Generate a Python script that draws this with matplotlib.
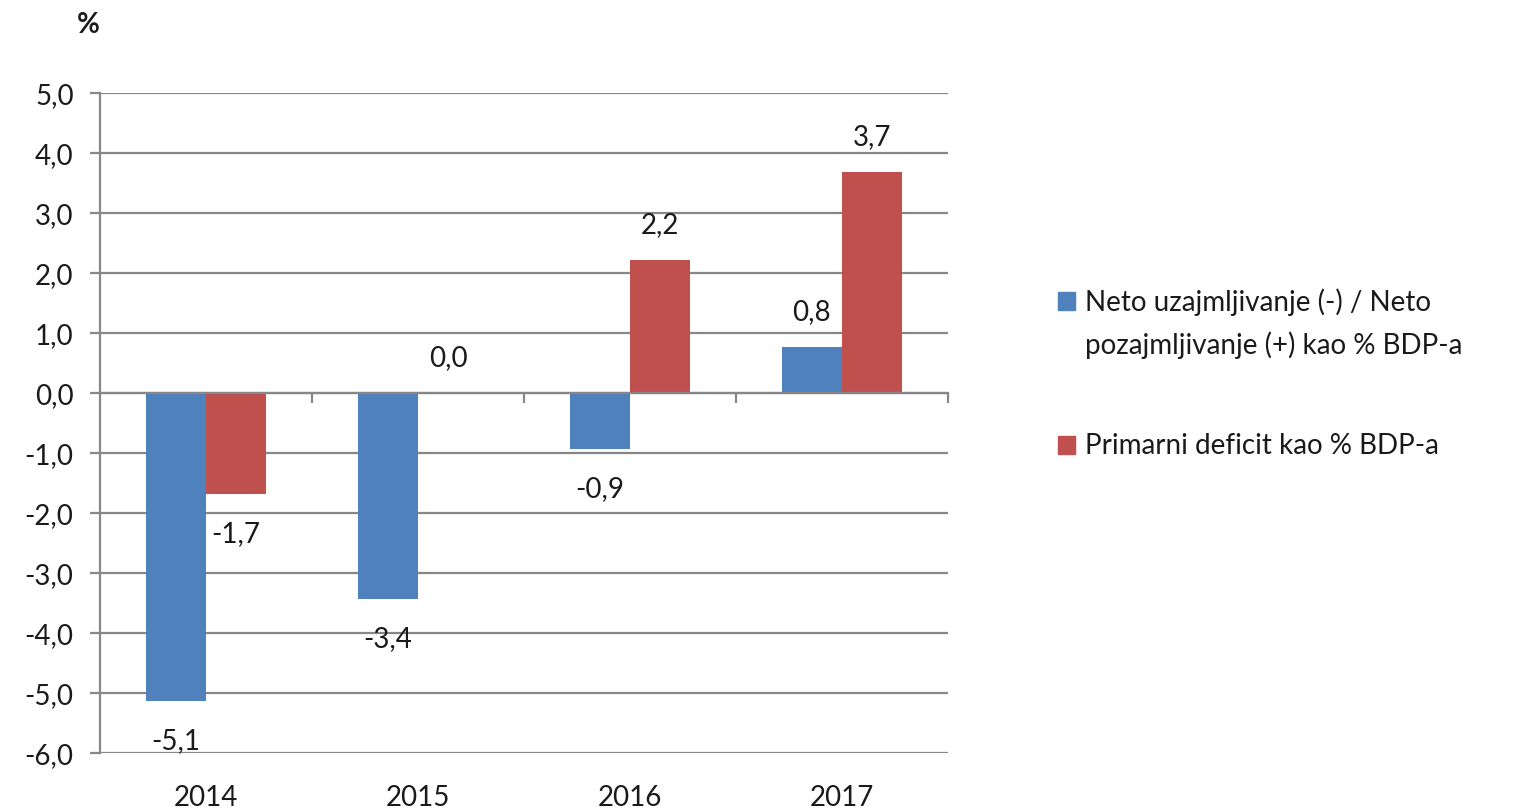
import matplotlib
matplotlib.use("Agg")
import matplotlib.pyplot as plt
from matplotlib.patches import Rectangle
import matplotlib.transforms as mtransforms
import numpy as np

years = ["2014", "2015", "2016", "2017"]
series_names = ["Neto uzajmljivanje (-) / Neto\npozajmljivanje (+) kao % BDP-a",
                "Primarni deficit kao % BDP-a"]
neto = [-5.13, -3.44, -0.93, 0.76]
primarni = [-1.68, 0.0, 2.21, 3.68]
labels_neto = ["-5,1", "-3,4", "-0,9", "0,8"]
labels_prim = ["-1,7", "0,0", "2,2", "3,7"]
yticks = [5, 4, 3, 2, 1, 0, -1, -2, -3, -4, -5, -6]
colors = ["#4F81BD", "#C0504D"]

plt.rcParams['font.family'] = ['Lato', 'DejaVu Sans']
FS = 20
TXT = "#1a1a1a"
GRID = "#878787"

fig = plt.figure(figsize=(15.14, 8.12), dpi=100)
ax = fig.add_axes([100/1514, 1-754/812, (948-100)/1514, (754-94)/812])

x = np.arange(len(years))
w = 0.285
series = [neto, primarni]
lab = [labels_neto, labels_prim]
for i, (vals, col, lb) in enumerate(zip(series, colors, lab)):
    xs = x + (i - 0.5) * w
    ax.bar(xs, vals, width=w, color=col, zorder=3)
    for xi, v, t in zip(xs, vals, lb):
        off = 26 if v >= 0 else -28
        ax.annotate(t, (xi, v), xytext=(0, off), textcoords="offset points",
                    ha="center", va="center", fontsize=FS, color=TXT)

ax.set_xlim(-0.5, 3.5)
ax.set_ylim(-6, 5)
ax.set_yticks(yticks)
ax.set_yticklabels([f"{v:.1f}".replace(".", ",") for v in yticks], fontsize=FS, color=TXT)
ax.yaxis.grid(True, color=GRID, linewidth=1.6, zorder=0)
ax.tick_params(axis="y", length=7, width=1.6, color=GRID, pad=12)

for s in ["top", "right"]:
    ax.spines[s].set_visible(False)
ax.spines["left"].set_color(GRID)
ax.spines["left"].set_linewidth(1.6)
ax.spines["bottom"].set_position(("data", 0))
ax.spines["bottom"].set_color(GRID)
ax.spines["bottom"].set_linewidth(1.6)
ax.spines["bottom"].set_zorder(4)
ax.set_xticks(np.arange(0.5, len(years), 1.0))
ax.set_xticklabels([])
ax.tick_params(axis="x", length=7, width=1.6, color=GRID, direction="out")

trans = mtransforms.blended_transform_factory(ax.transData, ax.transAxes)
for xi, yr in zip(x, years):
    ax.text(xi, -0.066, yr, transform=trans, ha="center", va="center",
            fontsize=FS, color=TXT)

fig.text(88/1514, 1-25/812, "%", ha="center", va="center", fontsize=FS,
         fontweight="bold", color=TXT)

# legend
leg_y = [302, 446]
for name, col, ly in zip(series_names, colors, leg_y):
    fig.patches.append(Rectangle((1058/1514, 1-(ly+9)/812), 17/1514, 18/812,
                                 transform=fig.transFigure, color=col))
    for j, line in enumerate(name.split("\n")):
        fig.text(1085/1514, 1-(ly + 43*j)/812, line, ha="left", va="center",
                 fontsize=FS, color=TXT)

fig.savefig("out.png", dpi=100)
